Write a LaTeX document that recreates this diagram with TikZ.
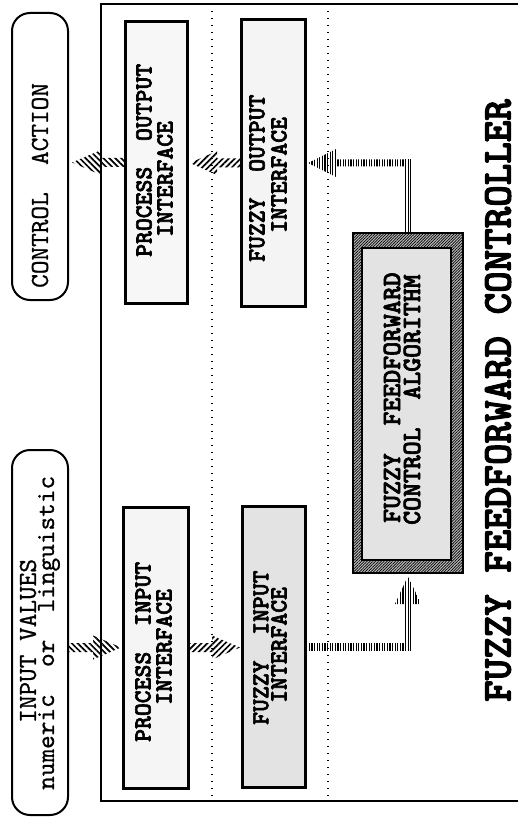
\documentclass[tikz,border=0pt]{standalone}
\usepackage{fontspec}
\newfontfamily\bmono[Extension=.otf,FakeBold=2.5]{lmmonolt10-bold}
\newfontfamily\rmono[Extension=.otf,FakeBold=0.8]{lmmono10-regular}
\usetikzlibrary{calc,patterns.meta}
\newcommand{\fatarrow}[6]{%
  \coordinate (fa-b) at ($(#2)!#3!(#1)$);
  \path[#6] (#2) -- ($(fa-b)!#4!90:(#2)$) -- ($(fa-b)!#5!90:(#2)$) -- ($(#1)!#5!90:(fa-b)$)
    -- ($(#1)!#5!-90:(fa-b)$) -- ($(fa-b)!#5!-90:(#2)$) -- ($(fa-b)!#4!-90:(#2)$) -- cycle;}
\begin{document}
\begin{tikzpicture}[x=1pt,y=-1pt,
  term/.style={draw, line width=2pt, rounded corners=18pt, inner sep=0pt, outer sep=0pt},
  ibox/.style={draw, line width=3pt, inner sep=0pt, outer sep=0pt},
  lbl/.style={rotate=90, anchor=west, inner sep=0pt, font=\bmono\fontsize{24.5}{26}\selectfont},
  albl/.style={rotate=90, anchor=west, inner sep=0pt, font=\bmono\fontsize{26.5}{28}\selectfont},
  tlbl/.style={rotate=90, anchor=west, inner sep=0pt, font=\rmono\fontsize{26}{28}\selectfont},
  ttl/.style={rotate=90, anchor=west, inner sep=0pt, font=\bmono\fontsize{41}{44}\selectfont},
  sep/.style={line width=1.4pt, dash pattern=on 1.4pt off 5.6pt},
  hNW/.style={pattern={Lines[angle=-45,distance=4.2pt,line width=1.7pt]}},
  hNE/.style={pattern={Lines[angle=45,distance=4.2pt,line width=1.7pt]}},
  hV/.style={pattern={Lines[angle=90,distance=2.6pt,line width=1.1pt]}},
  ring/.style={draw, line width=2.5pt, inner sep=0pt, outer sep=0pt,
    preaction={fill=gray!55}, pattern={Lines[angle=45,distance=2pt,line width=0.7pt]}},
]
\useasboundingbox (0,0) rectangle (518,821);
\fill[white] (0,0) rectangle (518,821);

% frame and separators
\draw[line width=1.2pt] (518,4) -- (101,4) -- (101,801) -- (518,801);
\draw[sep] (212,4) -- (212,801);
\draw[sep] (328,4) -- (328,801);

% terminals
\node[term, minimum width=56pt, minimum height=287pt] (ca) at (40,156.5) {};
\node[term, minimum width=56pt, minimum height=365pt] (iv) at (40,632.5) {};
\node[tlbl] (catext) at (40,288) {CONTROL~~ACTION};
\node[tlbl] (ivtext1) at (28,723) {INPUT~VALUES};
\node[tlbl] (ivtext2) at (49,790) {numeric~~or~~linguistic};

% interface boxes
\node[ibox, fill=gray!6, minimum width=62pt, minimum height=281pt] (po) at (156,162.5) {};
\node[ibox, fill=gray!9, minimum width=64pt, minimum height=286pt] (fo) at (273,163) {};
\node[ibox, fill=gray!8, minimum width=65pt, minimum height=281pt] (pi) at (155.5,647.5) {};
\node[ibox, fill=gray!22, minimum width=63pt, minimum height=281pt] (fi) at (273.5,646.5) {};
\node[lbl] (po1) at (144,257) {PROCESS~~OUTPUT};
\node[lbl] (po2) at (165,237) {INTERFACE};
\node[lbl] (fo1) at (257,262) {FUZZY~~OUTPUT};
\node[lbl] (fo2) at (279,233) {INTERFACE};
\node[lbl] (pi1) at (143,742) {PROCESS~~INPUT};
\node[lbl] (pi2) at (164,705) {INTERFACE};
\node[lbl] (fi1) at (261,725) {FUZZY~~INPUT};
\node[lbl] (fi2) at (279,703) {INTERFACE};

% algorithm box
\node[ring, minimum width=110pt, minimum height=340pt] (alg) at (408,403) {};
\node[draw, line width=1.5pt, fill=gray!22, inner sep=0pt, minimum width=89pt, minimum height=312pt] (algin) at (406.5,404) {};
\node[albl] (al1) at (392,523) {FUZZY~~FEEDFORWARD};
\node[albl] (al2) at (412,525) {CONTROL~~ALGORITHM};

% title
\node[ttl] (title) at (498,702) {FUZZY~FEEDFORWARD~CONTROLLER};

% arrows, output side
\coordinate (a1t) at ($(ca.east |- po.west)+(4,0)$);
\fatarrow{po.west}{a1t}{28pt}{12pt}{4.5pt}{hNW}
\coordinate (a2t) at ($(po.east |- fo.west)+(3,0)$);
\fatarrow{fo.west}{a2t}{27pt}{12pt}{4.5pt}{hNE}
\coordinate (a3c) at (alg.north |- fo.east);
\coordinate (a3t) at ($(fo.east)+(3,0)$);
\path[hV] ($(alg.north)+(-3.5,0)$) rectangle ($(a3c)+(3.5,-3.5)$);
\fatarrow{a3c}{a3t}{28pt}{14pt}{3.5pt}{hV}

% arrows, input side
\coordinate (a4s) at (iv.east |- pi.west);
\coordinate (a4t) at ($(pi.west)+(-2,0)$);
\fatarrow{a4s}{a4t}{28pt}{12pt}{4.5pt}{hNW}
\coordinate (a5t) at ($(fi.west |- pi.east)+(-2,0)$);
\fatarrow{pi.east}{a5t}{28pt}{12pt}{4.5pt}{hNE}
\coordinate (a6c) at (alg.south |- fi.east);
\coordinate (a6t) at ($(alg.south)+(0,3)$);
\path[hV] ($(fi.east)+(0,-3.5)$) rectangle ($(a6c)+(3.5,3.5)$);
\fatarrow{a6c}{a6t}{28pt}{13pt}{3.5pt}{hV}
\end{tikzpicture}
\end{document}
